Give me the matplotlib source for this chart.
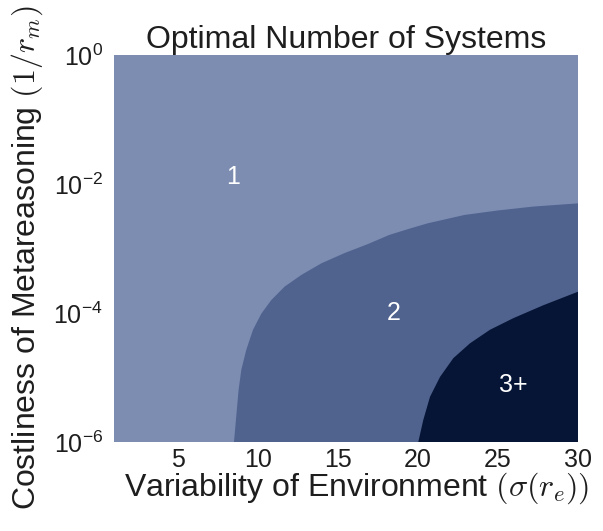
import numpy as np
import matplotlib
matplotlib.use("Agg")
import matplotlib.pyplot as plt

plt.rcParams['font.family'] = ['Liberation Sans', 'DejaVu Sans']
plt.rcParams['mathtext.fontset'] = 'cm'
plt.rcParams['axes.unicode_minus'] = False

# Boundary between 1 and 2 systems (x = sigma(r_e), log10 of 1/r_m)
b12_x = [8.50, 8.64, 8.79, 8.96, 9.27, 9.69, 10.21, 10.83, 11.67, 12.71, 13.96, 15.42,
         16.88, 18.2, 19.5, 20.6, 22.9, 25.0, 27.2, 30.0]
b12_logy = [-6.0, -5.61, -5.19, -4.88, -4.57, -4.26, -4.01, -3.80, -3.59, -3.41, -3.23, -3.07,
            -2.93, -2.79, -2.69, -2.61, -2.48, -2.41, -2.35, -2.30]
# Boundary between 2 and 3+ systems
b23_x = [20.02, 20.33, 20.75, 21.38, 22.21, 23.25, 24.5, 25.96, 27.83, 30.0]
b23_logy = [-6.0, -5.66, -5.30, -4.99, -4.70, -4.47, -4.26, -4.08, -3.88, -3.67]

region_labels = ["1", "2", "3+"]
label_x = [8.44, 18.5, 25.96]
label_logy = [-1.89, -4.0, -5.12]
colors = ["#7d8db1", "#50638f", "#061535"]

xmin, xmax = 1, 30
ymin, ymax = 1e-6, 1e0
txt = '#1e1e1e'

fig = plt.figure(figsize=(6.03, 5.31), dpi=100)
ax = fig.add_axes([0.189, 0.1676, 0.7695, 0.7288])

ax.set_xlim(xmin, xmax)
ax.set_yscale('log')
ax.set_ylim(ymin, ymax)

ax.add_patch(plt.Rectangle((xmin, ymin), xmax - xmin, ymax - ymin, color=colors[0], lw=0, zorder=0))
px = list(b12_x) + [xmax]
py = list(10.0 ** np.array(b12_logy)) + [ymin]
ax.fill(px, py, color=colors[1], lw=0, zorder=1)
px = list(b23_x) + [xmax]
py = list(10.0 ** np.array(b23_logy)) + [ymin]
ax.fill(px, py, color=colors[2], lw=0, zorder=2)

for t, x, ly in zip(region_labels, label_x, label_logy):
    ax.text(x, 10 ** ly, t, color='white', fontsize=18, ha='center', va='center', zorder=3)

for s in ax.spines.values():
    s.set_visible(False)
ax.tick_params(axis='x', length=0, labelsize=18, pad=4, labelcolor=txt)
ax.tick_params(axis='y', length=0, labelsize=18, pad=8, labelcolor=txt)
ax.set_xticks([5, 10, 15, 20, 25, 30])
ax.set_yticks([1e-6, 1e-4, 1e-2, 1e0])
ax.minorticks_off()
ax.set_title("Optimal Number of Systems", fontsize=23, color=txt, pad=2)
ax.set_xlabel(r"Variability of Environment $(\sigma(r_e))$", fontsize=23, color=txt)
ax.set_ylabel(r"Costliness of Metareasoning $(1/r_m)$", fontsize=23, color=txt)
ax.xaxis.set_label_coords(0.524, -0.074)
ax.yaxis.set_label_coords(-0.148, 0.476)

fig.savefig("out.png", dpi=100)
